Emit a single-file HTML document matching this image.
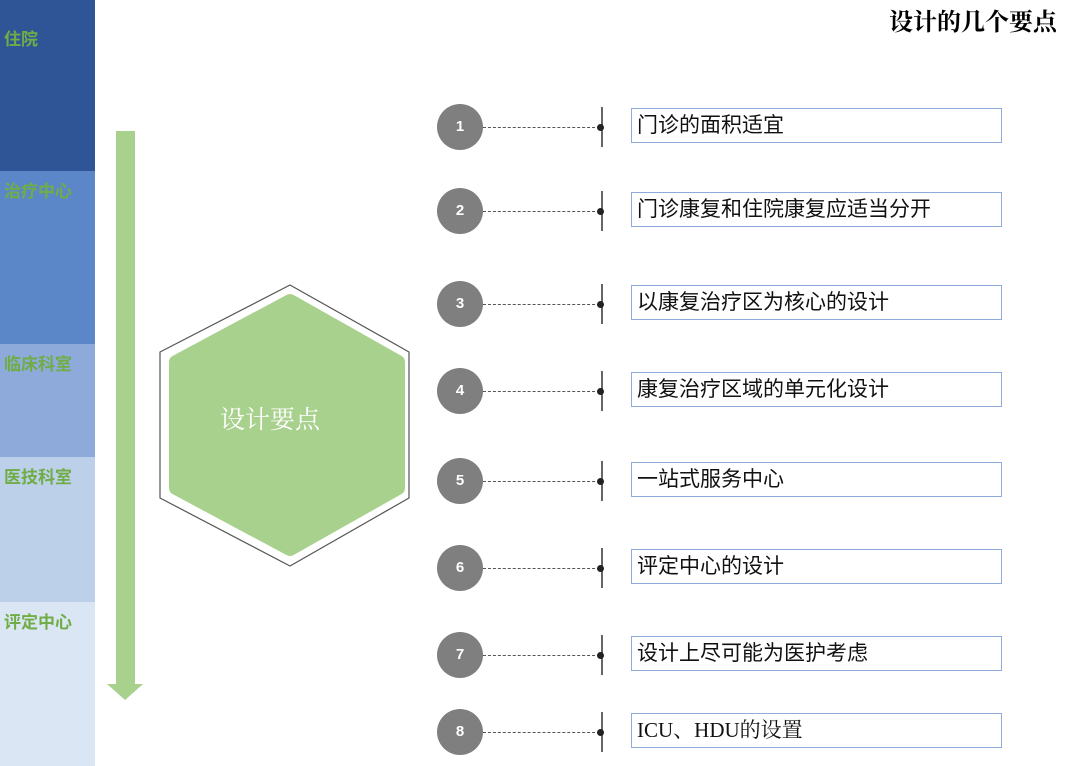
<!DOCTYPE html>
<html><head><meta charset="utf-8"><style>
body{margin:0;width:1080px;height:766px;background:#fff;position:relative;overflow:hidden;font-family:"Liberation Sans","Noto Sans CJK SC",sans-serif}
.seg{position:absolute;left:0;width:95px}
.seg span{position:absolute;left:4px;top:6px;color:#70ad47;font-weight:bold;font-size:17px}
.c{position:absolute;left:437px;width:46px;height:46px;border-radius:50%;background:#7f7f7f;color:#fff;font-weight:bold;font-size:15px;text-align:center;line-height:46px}
.d{position:absolute;left:483px;width:117px;border-top:1px dashed #555}
.v{position:absolute;left:601px;width:2px;height:40px;background:#666}
.dot{position:absolute;left:597px;width:7px;height:7px;border-radius:50%;background:#222}
.b{position:absolute;left:631px;width:371px;height:35px;border:1.5px solid #8faadc;font-size:21px;line-height:33px;padding-left:5px;box-sizing:border-box;color:#111;font-family:"Liberation Sans","Noto Sans CJK SC",sans-serif}
</style></head><body>
<div class="seg" style="top:0;height:171px;background:#2f5597"><span style="top:25px">住院</span></div>
<div class="seg" style="top:171px;height:173px;background:#5b87c9"><span>治疗中心</span></div>
<div class="seg" style="top:344px;height:113px;background:#8eaadb"><span>临床科室</span></div>
<div class="seg" style="top:457px;height:145px;background:#bdd0ea"><span>医技科室</span></div>
<div class="seg" style="top:602px;height:164px;background:#dae6f3"><span>评定中心</span></div>
<svg style="position:absolute;left:0;top:0" width="1080" height="766">
<rect x="116" y="131" width="19" height="555" fill="#a9d18e"/>
<polygon points="107,684 143,684 125,700" fill="#a9d18e"/>
<polygon points="160,352 290,285 409,352 409,498 290,566 160,498" fill="#fff" stroke="#555" stroke-width="1.2" stroke-linejoin="round"/>
<polygon points="176,362 290,301 398,362 398,488 290,549 176,488" fill="#a9d18e" stroke="#a9d18e" stroke-width="14" stroke-linejoin="round"/>
<text x="270" y="428" font-size="25" fill="#fff" text-anchor="middle" font-family="Liberation Serif,Noto Serif CJK SC,serif">设计要点</text>
</svg>
<div style="position:absolute;right:23px;top:2px;font-size:24px;font-weight:bold;font-family:'Liberation Serif','Noto Serif CJK SC',serif">设计的几个要点</div>

<div class="c" style="top:104px">1</div><div class="d" style="top:127px"></div><div class="v" style="top:107px"></div><div class="dot" style="top:124px"></div><div class="b" style="top:108px">门诊的面积适宜</div>
<div class="c" style="top:188px">2</div><div class="d" style="top:211px"></div><div class="v" style="top:191px"></div><div class="dot" style="top:208px"></div><div class="b" style="top:192px">门诊康复和住院康复应适当分开</div>
<div class="c" style="top:281px">3</div><div class="d" style="top:304px"></div><div class="v" style="top:284px"></div><div class="dot" style="top:301px"></div><div class="b" style="top:285px">以康复治疗区为核心的设计</div>
<div class="c" style="top:368px">4</div><div class="d" style="top:391px"></div><div class="v" style="top:371px"></div><div class="dot" style="top:388px"></div><div class="b" style="top:372px">康复治疗区域的单元化设计</div>
<div class="c" style="top:458px">5</div><div class="d" style="top:481px"></div><div class="v" style="top:461px"></div><div class="dot" style="top:478px"></div><div class="b" style="top:462px">一站式服务中心</div>
<div class="c" style="top:545px">6</div><div class="d" style="top:568px"></div><div class="v" style="top:548px"></div><div class="dot" style="top:565px"></div><div class="b" style="top:549px">评定中心的设计</div>
<div class="c" style="top:632px">7</div><div class="d" style="top:655px"></div><div class="v" style="top:635px"></div><div class="dot" style="top:652px"></div><div class="b" style="top:636px">设计上尽可能为医护考虑</div>
<div class="c" style="top:709px">8</div><div class="d" style="top:732px"></div><div class="v" style="top:712px"></div><div class="dot" style="top:729px"></div><div class="b" style="top:713px;font-family:'Liberation Serif','Noto Serif CJK SC',serif">ICU、HDU的设置</div>
</body></html>
